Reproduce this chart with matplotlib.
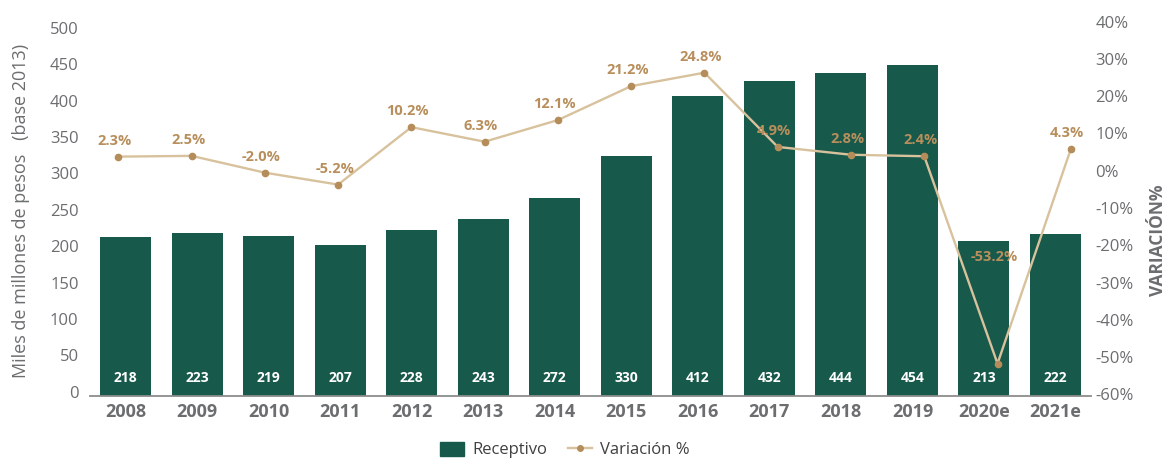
import numpy as np
import matplotlib.pyplot as plt
from matplotlib.patches import Patch
from matplotlib.lines import Line2D
from matplotlib.transforms import ScaledTranslation

# datos
anios = ["2008", "2009", "2010", "2011", "2012", "2013", "2014",
         "2015", "2016", "2017", "2018", "2019", "2020e", "2021e"]
receptivo = [218, 223, 219, 207, 228, 243, 272, 330, 412, 432, 444, 454, 213, 222]
variacion = [2.3, 2.5, -2.0, -5.2, 10.2, 6.3, 12.1, 21.2, 24.8, 4.9, 2.8, 2.4, -53.2, 4.3]
ticks_izq = [0, 50, 100, 150, 200, 250, 300, 350, 400, 450, 500]
ticks_der = [-60, -50, -40, -30, -20, -10, 0, 10, 20, 30, 40]

VERDE = "#17594a"
LINEA = "#d8c29d"
MARCA = "#b58d5a"
ETIQ = "#b88f5c"
GRIS = "#6b6d6f"

plt.rcParams['font.family'] = ['Open Sans', 'DejaVu Sans']

fig = plt.figure(figsize=(11.73, 4.59), dpi=100)
rect = [89.7/1173, (459-395.7)/459, 1001.6/1173, (395.7-16)/459]

# barras
ax = fig.add_axes(rect)
x = np.arange(len(anios))
ax.bar(x, receptivo, width=0.713, color=VERDE, zorder=2)
ax.set_xlim(-0.5, len(anios) - 0.5)
ax.set_ylim(0, 522)
ax.set_yticks(ticks_izq)
ax.set_xticks(x, anios, fontweight='bold', color=GRIS, fontsize=13)
for s in ['top', 'right', 'left']:
    ax.spines[s].set_visible(False)
ax.spines['bottom'].set_color('#8c8c8c')
ax.spines['bottom'].set_linewidth(1.3)
ax.tick_params(axis='x', length=0, pad=5)
ax.tick_params(axis='y', length=0, pad=8, labelsize=12, labelcolor=GRIS)
for t in ax.get_yticklabels():
    t.set_transform(t.get_transform() + ScaledTranslation(0, 0.04, fig.dpi_scale_trans))
for xi, v in zip(x, receptivo):
    ax.text(xi, 25, str(v), ha='center', va='center', color='white',
            fontweight='bold', fontsize=10, zorder=3)

# linea de variacion
ax2 = fig.add_axes(rect, frameon=False, label='linea')
ax2.plot(x, variacion, color=LINEA, lw=1.7, marker='o', ms=4.5,
         mfc=MARCA, mec=MARCA, zorder=3)
ax2.set_xlim(-0.39, 13.28)
ax2.set_ylim(-61.8, 40)
ax2.set_xticks([])
ax2.yaxis.tick_right()
ax2.set_yticks(ticks_der, [f"{t}%" for t in ticks_der])
ax2.tick_params(axis='y', length=0, pad=3, labelsize=12, labelcolor=GRIS)
for t in ax2.get_yticklabels():
    t.set_transform(t.get_transform() + ScaledTranslation(0, -0.055, fig.dpi_scale_trans))
for xi, v in zip(x, variacion):
    dy = 107 if v < -50 else 16
    ax2.annotate(f"{v:.1f}%", (xi, v), xytext=(-3.5, dy), textcoords='offset pixels',
                 ha='center', va='center', color=ETIQ, fontweight='bold', fontsize=10.5)

# titulos de ejes
fig.text(20.7/1173, 1 - 211/459, "Miles de millones de pesos   (base 2013)",
         rotation=90, ha='center', va='center', color=GRIS, fontsize=13)
fig.text(1158/1173, 1 - 240/459, "VARIACIÓN%", rotation=90, ha='center',
         va='center', color=GRIS, fontsize=12.5, fontweight='bold')

# leyenda
handles = [Patch(color=VERDE, label="Receptivo"),
           Line2D([], [], color=LINEA, lw=1.7, marker='o', ms=4, mfc=MARCA,
                  mec=MARCA, label="Variación %")]
fig.legend(handles=handles, loc='center', bbox_to_anchor=(565/1173, 1 - 450/459),
           ncol=2, frameon=False, fontsize=12, handlelength=1.4, handleheight=0.9,
           handletextpad=0.5, columnspacing=1.3, labelcolor='#404040')

fig.savefig("out.png", dpi=100)
